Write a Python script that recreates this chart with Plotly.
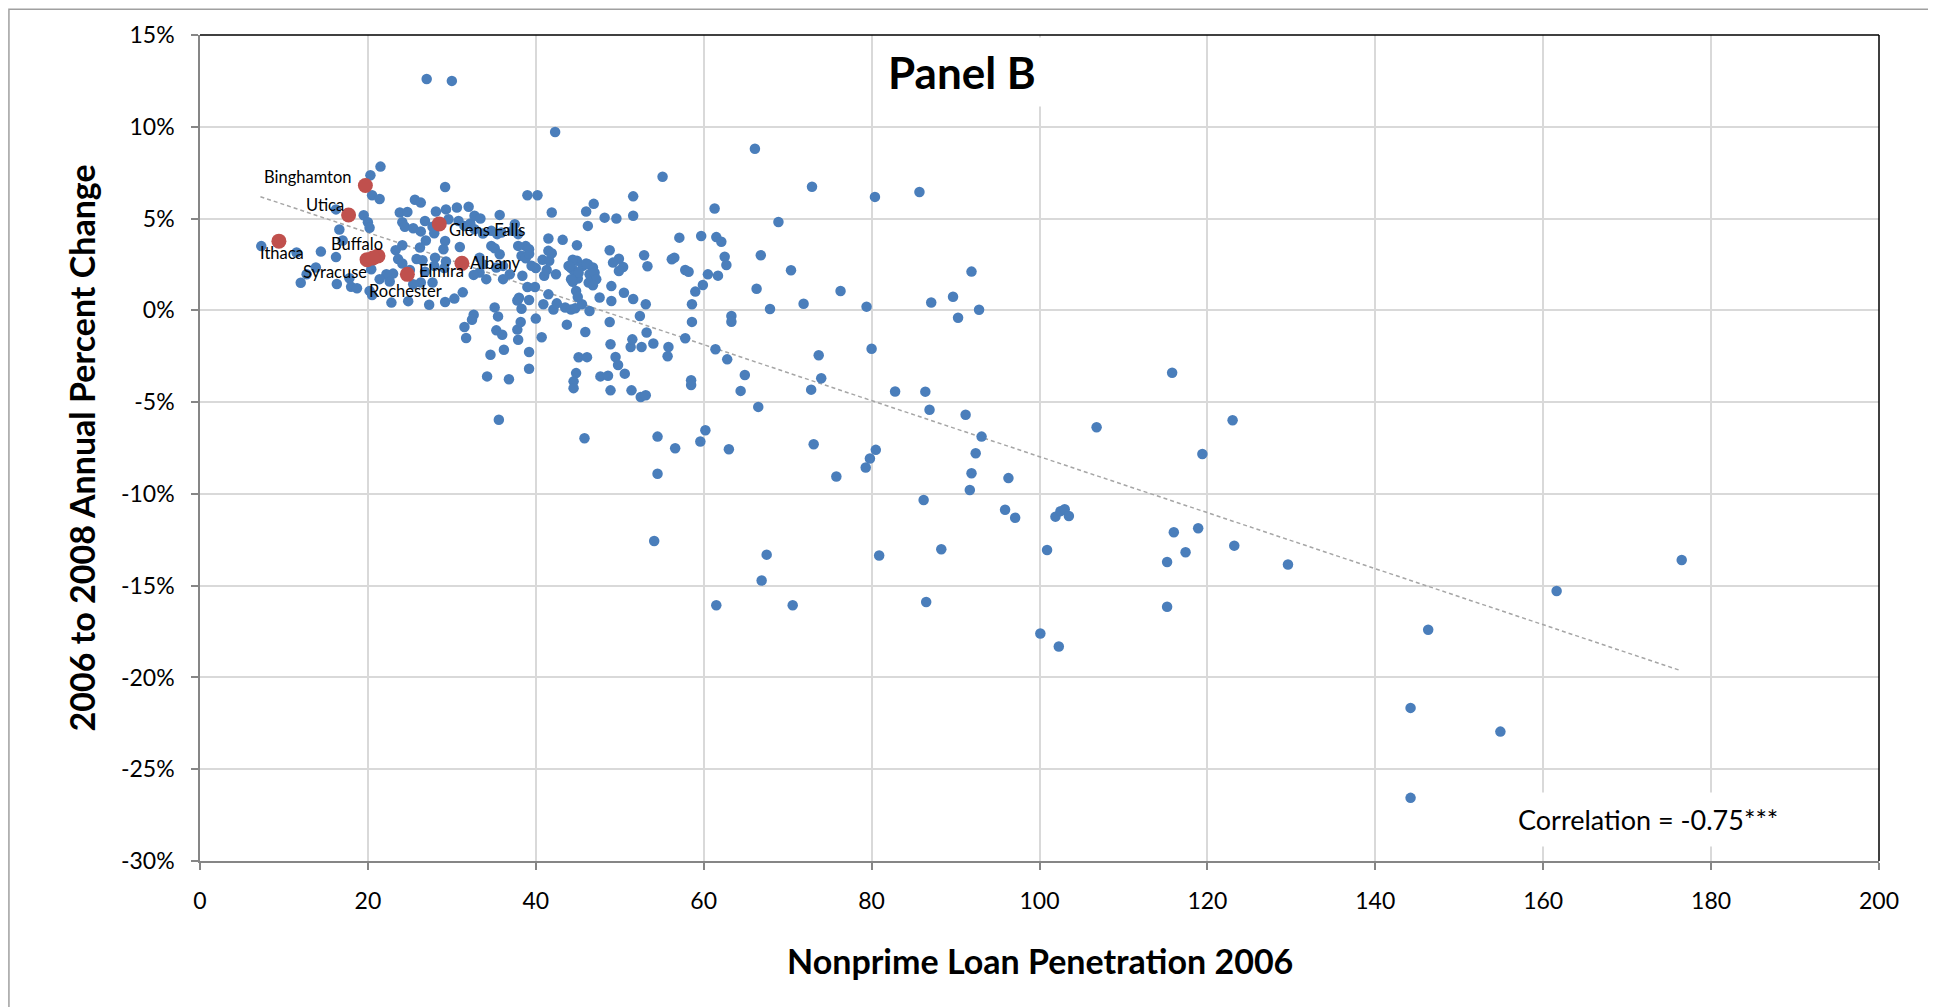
import plotly.graph_objects as go

# ---------------- data ----------------
nonprime_x = [
    7.3, 11.5, 12.0, 12.7, 13.8, 14.4, 16.2, 16.6, 16.2, 16.3,
    17.0, 17.8, 18.0, 18.7, 19.5, 20.0, 20.2, 20.3, 21.5, 20.5,
    21.4, 20.4, 20.2, 20.5, 22.8, 24.8, 27.3, 23.8, 24.7, 24.1,
    24.4, 25.4, 25.6, 26.3, 26.3, 26.8, 27.7, 28.1, 27.9, 26.9,
    23.3, 24.1, 23.6, 24.1, 25.0, 23.0, 22.2, 21.4, 22.6, 26.2,
    26.5, 27.9, 29.3, 29.1, 25.8, 26.8, 26.3, 27.7, 25.4, 29.2,
    29.3, 30.6, 32.0, 29.6, 30.8, 31.5, 29.2, 29.0, 28.0, 29.2,
    30.3, 31.3, 27.0, 30.0, 32.2, 32.7, 33.4, 35.7, 32.7, 33.7,
    34.7, 35.9, 37.5, 37.2, 35.4, 37.9, 39.0, 40.2, 42.3, 41.9,
    46.9, 46.0, 48.2, 49.6, 46.2, 51.6, 51.6, 41.5, 43.2, 44.9,
    38.8, 39.2, 37.9, 34.7, 35.1, 35.7, 30.95, 38.3, 38.8, 40.8,
    41.6, 43.9, 44.9, 44.2, 46.2, 46.8, 46.4, 45.0, 44.8, 47.6,
    41.0, 42.4, 40.0, 38.4, 36.9, 36.1, 34.1, 33.3, 32.6, 33.3,
    33.7, 35.3, 36.1, 41.5, 41.9, 41.3, 44.4, 44.5, 44.4, 45.6,
    46.0, 47.0, 47.2, 46.3, 46.8, 48.8, 49.9, 49.2, 50.4, 49.9,
    49.0, 49.0, 50.5, 51.6, 53.1, 44.0, 45.1, 44.2, 39.5, 39.2,
    38.0, 37.8, 39.2, 38.3, 39.0, 39.9, 40.9, 41.5, 42.1, 42.5,
    43.5, 44.2, 44.7, 45.5, 46.4, 45.0, 35.1, 35.5, 32.6, 32.4,
    31.5, 31.7, 35.3, 36.0, 37.9, 37.8, 38.2, 40.0, 40.7, 43.7,
    45.9, 34.6, 36.2, 39.2, 39.2, 34.2, 36.8, 35.6, 45.1, 46.1,
    44.8, 44.5, 44.5, 47.7, 48.6, 48.8, 48.9, 49.5, 49.8, 50.6,
    51.3, 51.5, 52.6, 53.2, 54.0, 55.8, 55.7, 57.8, 52.4, 48.9,
    51.4, 52.5, 53.1, 45.8, 66.1, 55.1, 72.9, 61.3, 68.9, 57.1,
    59.7, 61.5, 62.1, 62.5, 62.7, 66.8, 70.4, 52.9, 53.3, 56.2,
    56.5, 57.8, 58.2, 60.5, 61.7, 59.9, 59.0, 66.3, 76.3, 71.9,
    67.9, 58.6, 58.6, 63.3, 63.3, 80.4, 79.4, 61.4, 62.8, 73.7,
    74.0, 72.8, 64.9, 64.4, 66.5, 58.5, 58.5, 80.0, 82.8, 54.5,
    60.2, 59.6, 56.6, 63.0, 73.1, 54.5, 75.8, 80.5, 79.8, 79.3,
    54.1, 61.5, 66.9, 67.5, 70.6, 80.9, 85.7, 91.9, 89.7, 87.1,
    90.3, 92.8, 115.8, 86.4, 86.9, 91.2, 93.1, 92.4, 91.9, 96.3,
    91.7, 106.8, 123.0, 119.4, 86.2, 95.9, 97.1, 101.9, 102.5, 103.0,
    103.5, 88.3, 100.9, 116.0, 118.9, 117.4, 115.2, 123.2, 129.6, 86.5,
    115.2, 100.1, 102.3, 176.5, 161.6, 146.3, 144.2, 154.9, 144.2,
]

annual_change_pct = [
    3.5, 3.15, 1.5, 1.97, 2.33, 3.2, 5.5, 4.4, 2.9, 1.43,
    3.8, 1.75, 1.28, 1.2, 5.18, 4.8, 4.5, 7.36, 7.83, 6.27,
    6.07, 2.24, 1.06, 0.83, 0.42, 0.5, 0.3, 5.33, 5.36, 4.8,
    4.55, 4.47, 6.02, 5.87, 4.3, 4.87, 4.55, 5.38, 4.2, 3.8,
    3.28, 3.55, 2.79, 2.55, 2.2, 2.0, 1.97, 1.7, 1.57, 3.42,
    2.73, 2.42, 2.66, 2.3, 2.8, 2.1, 1.52, 1.52, 1.42, 6.72,
    5.5, 5.6, 5.64, 4.96, 4.87, 4.6, 3.78, 3.33, 2.87, 0.45,
    0.64, 0.98, 12.6, 12.5, 4.73, 5.15, 5.0, 5.2, 4.42, 4.18,
    4.33, 4.24, 4.69, 4.33, 4.15, 4.15, 6.27, 6.27, 9.72, 5.33,
    5.8, 5.38, 5.05, 5.0, 4.6, 6.21, 5.15, 3.91, 3.84, 3.55,
    3.5, 3.33, 3.51, 3.51, 3.38, 3.06, 3.45, 2.97, 2.84, 2.75,
    2.7, 2.42, 2.7, 2.3, 2.51, 2.33, 1.97, 1.73, 1.06, 0.7,
    1.88, 1.97, 2.3, 1.88, 1.97, 1.7, 1.7, 2.06, 1.93, 2.87,
    2.51, 2.33, 2.42, 3.24, 3.11, 2.2, 2.76, 2.18, 1.56, 2.42,
    2.55, 2.05, 1.69, 1.51, 1.36, 3.27, 2.81, 2.6, 2.36, 2.14,
    1.32, 0.51, 0.96, 0.62, 0.33, 2.41, 2.05, 1.69, 2.43, 3.08,
    0.69, 0.54, 0.56, 0.09, 1.27, 1.27, 0.33, 0.87, 0.05, 0.38,
    0.15, 0.05, 0.11, 0.33, -0.04, 0.73, 0.16, -0.33, -0.24, -0.51,
    -0.91, -1.51, -1.09, -1.33, -1.6, -1.05, -0.64, -0.45, -1.47, -0.78,
    -1.18, -2.42, -2.15, -2.27, -3.18, -3.6, -3.75, -5.96, -2.56, -2.55,
    -3.42, -3.87, -4.24, -3.6, -3.56, -0.64, -1.85, -2.54, -2.98, -3.45,
    -2.0, -1.58, -2.0, -1.21, -1.81, -2.0, -2.5, -1.52, -0.31, -4.36,
    -4.36, -4.72, -4.63, -6.97, 8.8, 7.28, 6.73, 5.55, 4.81, 3.96,
    4.05, 3.99, 3.74, 2.92, 2.47, 3.0, 2.18, 3.0, 2.4, 2.78,
    2.87, 2.2, 2.1, 1.96, 1.89, 1.38, 1.02, 1.18, 1.05, 0.36,
    0.07, 0.33, -0.63, -0.31, -0.62, 6.18, 0.2, -2.12, -2.67, -2.45,
    -3.7, -4.32, -3.52, -4.39, -5.26, -3.81, -4.07, -2.09, -4.42, -6.88,
    -6.53, -7.15, -7.51, -7.57, -7.3, -8.9, -9.05, -7.6, -8.07, -8.56,
    -12.57, -16.07, -14.72, -13.31, -16.07, -13.36, 6.45, 2.11, 0.74, 0.43,
    -0.4, 0.03, -3.4, -4.43, -5.42, -5.69, -6.88, -7.79, -8.88, -9.14,
    -9.79, -6.37, -5.99, -7.83, -10.33, -10.86, -11.3, -11.24, -10.94, -10.84,
    -11.2, -13.02, -13.06, -12.09, -11.87, -13.18, -13.71, -12.82, -13.85, -15.89,
    -16.15, -17.61, -18.31, -13.6, -15.29, -17.4, -21.66, -22.95, -26.56,
]

city_names = ["Binghamton", "Utica", "Glens Falls", "Albany", "Elmira",
              "Ithaca", "Buffalo", "Syracuse", "Rochester"]
city_x = [19.7, 17.7, 28.5, 31.2, 24.7, 9.4, 21.2, 19.9, 20.6]
city_y = [6.8, 5.19, 4.71, 2.56, 1.96, 3.77, 2.96, 2.76, 2.85]

trend_x = [7.2, 176.4]
trend_y = [6.19, -19.63]

x_tick_vals = [0, 20, 40, 60, 80, 100, 120, 140, 160, 180, 200]
y_tick_vals = [-30, -25, -20, -15, -10, -5, 0, 5, 10, 15]
y_tick_text = [f"{v}%" for v in y_tick_vals]

correlation_text = "Correlation = -0.75***"
panel_title = "Panel B"
x_title = "Nonprime Loan Penetration 2006"
y_title = "2006 to 2008 Annual Percent Change"

# ---------------- styles ----------------
FONT = "Lato, 'Open Sans', sans-serif"
BLUE = "#4A7EBB"
RED = "#C0504D"
GRID = "#D9D9D9"
AXIS = "#868686"

# label offsets in pixels (xshift, yshift) relative to each red point
label_shift = {
    "Binghamton": (-57, 9), "Utica": (-24, 10), "Glens Falls": (48, -6),
    "Albany": (33, 0), "Elmira": (34, 3), "Ithaca": (3, -12),
    "Buffalo": (-21, 12), "Syracuse": (-32, -12), "Rochester": (33, -33),
}

fig = go.Figure()

fig.add_trace(go.Scatter(
    x=trend_x, y=trend_y, mode="lines",
    line=dict(color="#A6A6A6", width=1.5, dash="4px,3px"),
    hoverinfo="skip", showlegend=False,
))

fig.add_trace(go.Scatter(
    x=nonprime_x, y=annual_change_pct, mode="markers",
    marker=dict(color=BLUE, size=10.5, line=dict(width=0)),
    showlegend=False,
))

fig.add_trace(go.Scatter(
    x=city_x, y=city_y, mode="markers",
    marker=dict(color=RED, size=15, line=dict(width=0)),
    text=city_names, showlegend=False,
))

annotations = []
for name, cx, cy in zip(city_names, city_x, city_y):
    dx, dy = label_shift[name]
    annotations.append(dict(
        x=cx, y=cy, xref="x", yref="y", text=name, showarrow=False,
        xshift=dx, yshift=dy, font=dict(family=FONT, size=16.5, color="#000000"),
    ))

annotations += [
    dict(text=f"<b>{panel_title}</b>", xref="paper", yref="paper",
         x=0.4538, y=0.9547, xanchor="center", yanchor="middle", showarrow=False,
         font=dict(family=FONT, size=44, color="#000000"),
         bgcolor="#FFFFFF", borderpad=8),
    dict(text=correlation_text, xref="paper", yref="paper",
         x=0.8627, y=0.0504, xanchor="center", yanchor="middle", showarrow=False,
         font=dict(family=FONT, size=27, color="#000000"),
         bgcolor="#FFFFFF", borderpad=10),
    dict(text=f"<b>{x_title}</b>", xref="paper", yref="paper",
         x=0.5, y=-0.121, xanchor="center", yanchor="middle", showarrow=False,
         font=dict(family=FONT, size=34, color="#000000")),
    dict(text=f"<b>{y_title}</b>", xref="paper", yref="paper",
         x=-0.0706, y=0.5, xanchor="center", yanchor="middle", showarrow=False,
         textangle=-90, font=dict(family=FONT, size=34, color="#000000")),
]

shapes = [
    # black top and right plot-area border
    dict(type="line", xref="paper", yref="paper", x0=0, x1=1, y0=1, y1=1,
         line=dict(color="#000000", width=1.5)),
    dict(type="line", xref="paper", yref="paper", x0=1, x1=1, y0=0, y1=1,
         line=dict(color="#000000", width=1.5)),
    # outer chart-area border
    dict(type="rect", xref="paper", yref="paper", x0=-0.1138, x1=1.0316,
         y0=-0.20, y1=1.0312, line=dict(color="#A0A0A0", width=1.5),
         fillcolor="rgba(0,0,0,0)", layer="below"),
]

fig.update_layout(
    width=1928, height=999,
    margin=dict(l=192, r=57, t=27, b=146),
    paper_bgcolor="#FFFFFF", plot_bgcolor="#FFFFFF",
    font=dict(family=FONT, size=23, color="#000000"),
    showlegend=False,
    annotations=annotations,
    shapes=shapes,
)

fig.update_xaxes(
    range=[0, 200], tickvals=x_tick_vals, showgrid=True, gridcolor=GRID, gridwidth=1.5,
    zeroline=False, showline=True, linecolor=AXIS, linewidth=1.5,
    ticks="outside", ticklen=7, tickwidth=1.5, tickcolor=AXIS,
    tickfont=dict(family=FONT, size=23, color="#000000"), ticklabelstandoff=12,
)
fig.update_yaxes(
    range=[-30, 15], tickvals=y_tick_vals, ticktext=y_tick_text,
    showgrid=True, gridcolor=GRID, gridwidth=1.5,
    zeroline=False, showline=True, linecolor=AXIS, linewidth=1.5,
    ticks="outside", ticklen=7, tickwidth=1.5, tickcolor=AXIS,
    tickfont=dict(family=FONT, size=23, color="#000000"), ticklabelstandoff=12,
)

fig.write_html("out.html")
